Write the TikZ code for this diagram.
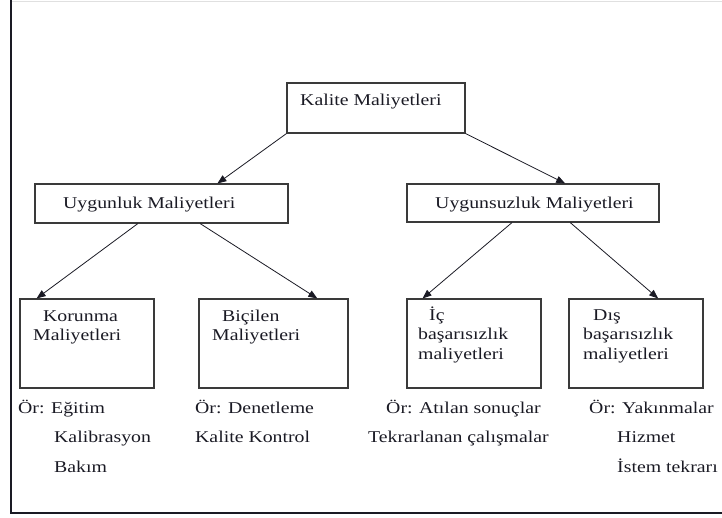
\documentclass[tikz,border=0pt]{standalone}
\usepackage{fontspec}
\setmainfont{Liberation Serif}[FakeStretch=1.2]
\usetikzlibrary{arrows.meta,calc}
\definecolor{ink}{HTML}{1A1A24}
\definecolor{edge}{HTML}{3A3A3A}
\begin{document}
\begin{tikzpicture}[x=1pt,y=-1pt,
  box/.style={draw=edge,line width=1.1pt,minimum width=#1,inner sep=0pt},
  txt/.style={anchor=base west,inner sep=0pt,text=ink,font=\fontsize{16.5}{19.5}\selectfont},
  link/.style={draw=ink,line width=0.8pt,-{Triangle[length=9pt,width=7pt]}}]
\useasboundingbox (0,0) rectangle (722,517);
% page frame
\draw[black!12,line width=1pt] (11,1) -- (722,1);
\draw[ink,line width=1.2pt] (11,0) -- (11,513) -- (722,513);

% boxes
\node[box=178pt,minimum height=50pt] (kal) at (376,108) {};
\node[box=253pt,minimum height=39pt] (uyg) at (161.5,203.5) {};
\node[box=252pt,minimum height=38pt] (uygs) at (533,203) {};
\node[box=134pt,minimum height=89pt] (kor) at (87,343.5) {};
\node[box=149pt,minimum height=89pt] (bic) at (273.5,343.5) {};
\node[box=134pt,minimum height=89pt] (ic) at (474,343.5) {};
\node[box=134pt,minimum height=89pt] (dis) at (636,343.5) {};

% box texts
\node[txt] (tkal) at (300,105) {Kalite Maliyetleri};
\node[txt] (tuyg) at (63,208) {Uygunluk Maliyetleri};
\node[txt] (tuygs) at (435,208) {Uygunsuzluk Maliyetleri};
\node[txt] (tkor1) at (43,321) {Korunma};
\node[txt] (tkor2) at (33,340) {Maliyetleri};
\node[txt] (tbic1) at (222,321) {Biçilen};
\node[txt] (tbic2) at (212,340) {Maliyetleri};
\node[txt] (tic1) at (429,320) {İç};
\node[txt] (tic2) at (418,339.5) {başarısızlık};
\node[txt] (tic3) at (418,359) {maliyetleri};
\node[txt] (tdis1) at (593,320) {Dış};
\node[txt] (tdis2) at (583,339.5) {başarısızlık};
\node[txt] (tdis3) at (583,359) {maliyetleri};

% examples under the boxes
\node[txt] (e1) at (18,413) {Ör: Eğitim};
\node[txt] (e2) at (54,442) {Kalibrasyon};
\node[txt] (e3) at (54,472) {Bakım};
\node[txt] (e4) at (195,413) {Ör: Denetleme};
\node[txt] (e5) at (195,442) {Kalite Kontrol};
\node[txt] (e6) at (386,413) {Ör: Atılan sonuçlar};
\node[txt] (e7) at (368,442) {Tekrarlanan çalışmalar};
\node[txt] (e8) at (589,413) {Ör: Yakınmalar};
\node[txt] (e9) at (617,442) {Hizmet};
\node[txt] (e10) at (617,472) {İstem tekrarı};

% connectors
\draw[link] (kal.south west) -- ($(uyg.north west)!0.72!(uyg.north east)$);
\draw[link] (kal.south east) -- ($(uygs.north west)!0.627!(uygs.north east)$);
\draw[link] ($(uyg.south west)!0.407!(uyg.south east)$) -- ($(kor.north west)!0.127!(kor.north east)$);
\draw[link] ($(uyg.south west)!0.652!(uyg.south east)$) -- ($(bic.north west)!0.792!(bic.north east)$);
\draw[link] ($(uygs.south west)!0.417!(uygs.south east)$) -- ($(ic.north west)!0.119!(ic.north east)$);
\draw[link] ($(uygs.south west)!0.647!(uygs.south east)$) -- ($(dis.north west)!0.664!(dis.north east)$);
\end{tikzpicture}
\end{document}
